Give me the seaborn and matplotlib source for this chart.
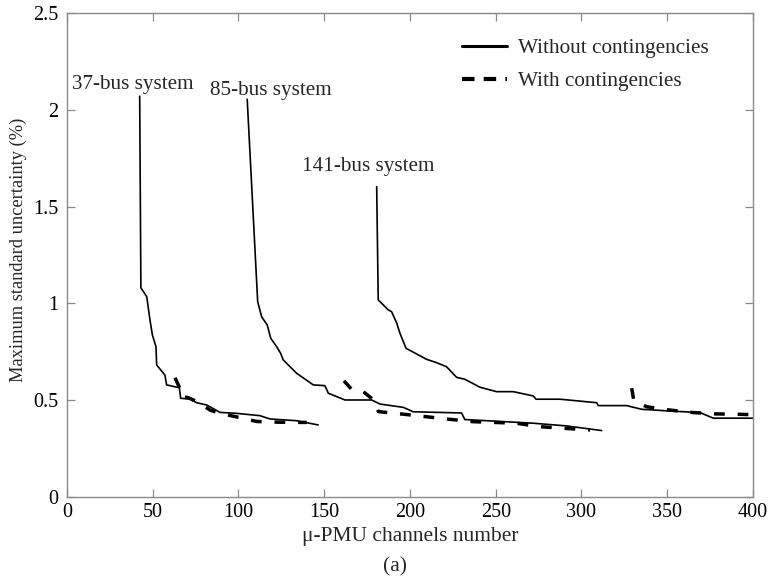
import matplotlib
matplotlib.use("Agg")
import matplotlib.pyplot as plt
import seaborn as sns
import pandas as pd
from matplotlib.lines import Line2D

# ---- data ----
s37_x = [42.4, 43.1, 46.5, 48.4, 49.8, 51.9, 52.3, 57.1, 58.1, 64, 65.5, 66.3, 71.7, 75.6, 81.5, 89.2, 98.9, 112.5, 118.4, 133.9, 146.5]
s37_y = [2.07, 1.08, 1.035, 0.914, 0.837, 0.776, 0.682, 0.63, 0.579, 0.567, 0.565, 0.51, 0.505, 0.487, 0.475, 0.437, 0.432, 0.42, 0.403, 0.394, 0.372]
d37_x = [63, 65.5, 66.5, 70.7, 76.5, 83.4, 88, 95.5, 100.9, 110.6, 124.2, 139.8]
d37_y = [0.616, 0.567, 0.52, 0.513, 0.49, 0.449, 0.435, 0.42, 0.41, 0.39, 0.386, 0.385]

s85_x = [105.1, 111.2, 113.5, 116.8, 118.8, 122.3, 124.6, 126.1, 133.9, 143.6, 150.4, 152.4, 162.1, 177.7, 182.5, 196.1, 201.9, 230.1, 232, 244.7, 271.9, 291.4, 311.8]
s85_y = [2.054, 1.009, 0.931, 0.888, 0.82, 0.776, 0.742, 0.708, 0.639, 0.579, 0.575, 0.536, 0.501, 0.501, 0.48, 0.463, 0.44, 0.434, 0.40, 0.394, 0.381, 0.367, 0.343]
d85_x = [161.5, 166, 172.8, 178.3, 181.6, 200, 223.3, 236.9, 262.2, 275.8, 305]
d85_y = [0.60, 0.556, 0.544, 0.505, 0.441, 0.424, 0.401, 0.389, 0.381, 0.363, 0.346]

s141_x = [180.6, 181.5, 187.4, 189.3, 192.2, 194.2, 197.7, 209.7, 215.5, 221.3, 227.2, 232, 240.8, 250.5, 260.2, 271.9, 273.5, 287.5, 308.9, 309.8, 326.3, 335.1, 351.6, 369.1, 376.9, 400]
s141_y = [1.603, 1.018, 0.966, 0.957, 0.9, 0.845, 0.768, 0.711, 0.694, 0.673, 0.618, 0.608, 0.567, 0.544, 0.544, 0.522, 0.505, 0.505, 0.487, 0.472, 0.472, 0.453, 0.444, 0.436, 0.407, 0.407]
d141_x = [329.3, 330.5, 338, 351.6, 365.2, 378.8, 392.4, 400]
d141_y = [0.562, 0.50, 0.466, 0.449, 0.436, 0.429, 0.427, 0.425]

x_ticks = [0, 50, 100, 150, 200, 250, 300, 350, 400]
y_ticks = [0, 0.5, 1, 1.5, 2, 2.5]
y_tick_labels = ["0", "0.5", "1", "1.5", "2", "2.5"]

system_labels = ["37-bus system", "85-bus system", "141-bus system"]
legend_labels = ["Without contingencies", "With contingencies"]

sns.set_style("ticks")
plt.rcParams["font.family"] = ["Liberation Serif", "DejaVu Serif"]

fig = plt.figure(figsize=(7.69, 5.86), dpi=100)
ax = fig.add_axes([0.0871, 0.1519, 0.892, 0.826])

solid_kw = dict(color="black", linewidth=1.2, sort=False, estimator=None)
dash_kw = dict(color="black", linewidth=2.5, sort=False, estimator=None)

for xs, ys in [(s37_x, s37_y), (s85_x, s85_y), (s141_x, s141_y)]:
    df = pd.DataFrame({"x": xs, "y": ys})
    sns.lineplot(data=df, x="x", y="y", ax=ax, **solid_kw)
for xs, ys in [(d37_x, d37_y), (d85_x, d85_y), (d141_x, d141_y)]:
    df = pd.DataFrame({"x": xs, "y": ys})
    sns.lineplot(data=df, x="x", y="y", ax=ax, **dash_kw)
for ln in ax.lines[3:]:
    ln.set_linestyle((0, (3.1, 3.7)))

ax.set_xlim(0, 400)
ax.set_ylim(0, 2.5)
ax.set_xticks(x_ticks)
ax.set_xticklabels([str(v) for v in x_ticks])
ax.set_yticks(y_ticks)
ax.set_yticklabels(y_tick_labels)

for sp in ax.spines.values():
    sp.set_visible(True)
    sp.set_color("#8a8a8a")
    sp.set_linewidth(1.0)
ax.tick_params(direction="in", top=True, right=True, length=6, width=0.9,
               color="#8a8a8a", labelsize=14.5, labelcolor="black")
ax.tick_params(axis="y", pad=6)
ax.tick_params(axis="x", pad=4)

ax.set_xlabel("μ-PMU channels number", fontsize=15.5, labelpad=4)
ax.set_ylabel("Maximum standard uncertainty (%)", fontsize=13.3, labelpad=2)
ax.yaxis.set_label_coords(-0.058, 0.51)

ax.text(3, 2.13, system_labels[0], fontsize=15.2, ha="left", va="center")
ax.text(83.5, 2.10, system_labels[1], fontsize=15.2, ha="left", va="center")
ax.text(137, 1.705, system_labels[2], fontsize=15.2, ha="left", va="center")

handles = [Line2D([0], [0], color="black", linewidth=2.2),
           Line2D([0], [0], color="black", linewidth=3.0, linestyle=(0, (3.0, 2.2)))]
ax.legend(handles, legend_labels, loc="upper left", bbox_to_anchor=(0.576, 0.948),
          frameon=False, fontsize=15.3, handlelength=2.1, handletextpad=0.55,
          labelspacing=0.62, borderpad=0, borderaxespad=0)

fig.text(0.514, 0.032, "(a)", fontsize=15.5, ha="center", va="center")

fig.savefig("out.png", dpi=100)
